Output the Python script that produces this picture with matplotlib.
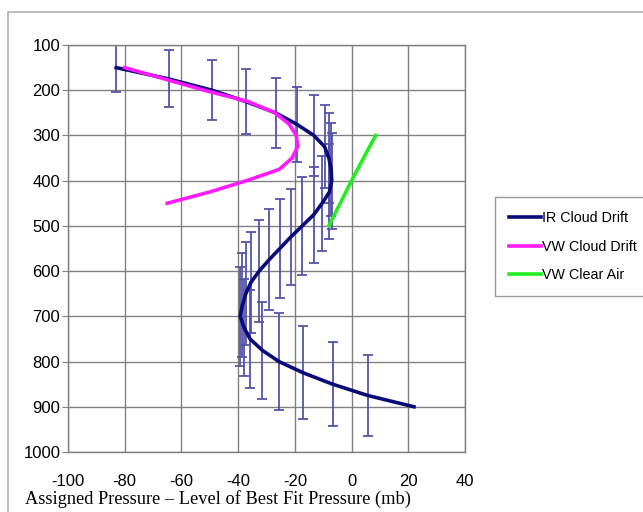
import numpy as np
import matplotlib.pyplot as plt
from matplotlib.patches import Rectangle

# pressure levels (mb) and x offsets
ir_levels = [150, 175, 200, 225, 250, 275, 300, 325, 350, 375, 400, 425, 450, 475,
             500, 525, 550, 575, 600, 625, 650, 675, 700, 725, 750, 775, 800, 825,
             850, 875, 900]
ir_offset = [-83, -64.5, -49.2, -37.3, -26.8, -19.4, -13.3, -9.5, -8.0, -7.2, -7.0,
             -7.8, -10.4, -13.3, -17.4, -21.5, -25.3, -29.1, -32.6, -35.5, -37.3,
             -38.5, -39.3, -37.9, -35.8, -31.5, -25.6, -17.0, -6.7, 5.7, 22.0]
# error bar half widths (mb) for levels 150..875
ir_err = [55, 63, 66, 71, 78, 83, 90, 92, 100, 103, 106, 105, 105, 106, 109, 106,
          110, 112, 112, 112, 114, 114, 110, 108, 108, 107, 107, 103, 93, 89]

wv_levels = [150, 175, 200, 225, 250, 275, 300, 325, 350, 375, 400, 425, 450]
wv_offset = [-80, -66, -52, -36.5, -27, -22, -19.5, -19, -21, -25.5, -37, -50, -65]

clear_levels = [300, 350, 400, 450, 500]
clear_offset = [8.5, 4.2, 0.0, -4.0, -8.0]

plt.rcParams['axes.unicode_minus'] = False

fig = plt.figure(figsize=(6.43, 5.12), dpi=100)
ax = fig.add_axes([68 / 643, 1 - 452 / 512, 397 / 643, 407 / 512])

# outer chart frame
fig.patches.append(Rectangle((8 / 643, -0.05), 1.0, 1 - 12 / 512 + 0.05,
                             transform=fig.transFigure, fill=False,
                             edgecolor='#b0b0b0', lw=1.2))

ax.errorbar(ir_offset[:-1], ir_levels[:-1], yerr=ir_err, fmt='none',
            ecolor='#5454a8', elinewidth=1.3, capsize=3.5, capthick=1.3, zorder=2)
ax.plot(ir_offset, ir_levels, color='#0a0a78', lw=2.6, label='IR Cloud Drift', zorder=3)
ax.plot(wv_offset, wv_levels, color='#ff1aff', lw=2.6, label='VW Cloud Drift', zorder=4)
ax.plot(clear_offset, clear_levels, color='#22ee22', lw=2.6, label='VW Clear Air', zorder=5)

ax.set_xlim(-100, 40)
ax.set_ylim(1000, 100)
ax.set_xticks(np.arange(-100, 41, 20))
ax.set_yticks(np.arange(100, 1001, 100))
ax.grid(True, color='#808080', lw=1.0)
ax.set_axisbelow(True)
for s in ax.spines.values():
    s.set_color('#808080')
    s.set_linewidth(1.0)

ax.tick_params(axis='x', length=0, pad=16, labelsize=12)
ax.tick_params(axis='y', length=4, pad=1.5, labelsize=12, color='#808080')
for lab in ax.get_xticklabels() + ax.get_yticklabels():
    lab.set_family('Liberation Sans')

fig.text(25 / 643, 1 - 504 / 512, 'Assigned Pressure \u2013 Level of Best Fit Pressure (mb)',
         family='Liberation Serif', fontsize=13.2, va='baseline', ha='left')

leg = fig.legend(loc='upper left', bbox_to_anchor=(495 / 643, 1 - 197 / 512),
                 bbox_transform=fig.transFigure, frameon=True, fancybox=False,
                 edgecolor='#808080', prop={'family': 'Liberation Sans', 'size': 10.3},
                 handlelength=2.2, handletextpad=0.1, labelspacing=1.0,
                 borderpad=1.0, borderaxespad=0)
leg.get_frame().set_linewidth(1.0)

fig.savefig('out.png', dpi=100)
